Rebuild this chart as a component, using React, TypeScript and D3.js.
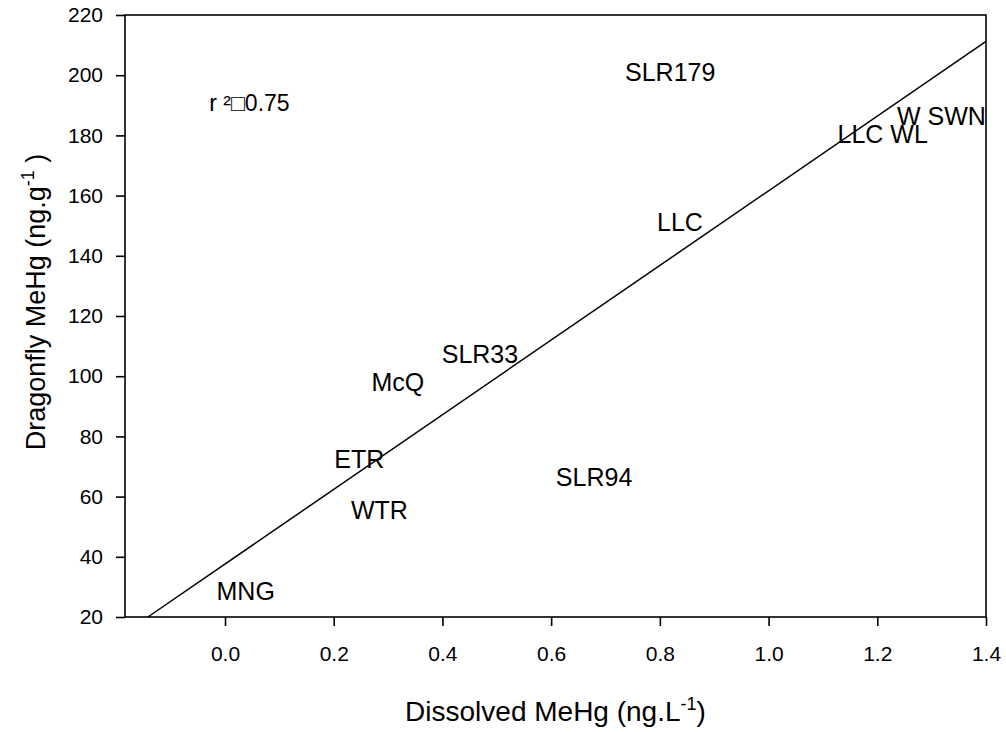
import React, { useEffect, useRef } from 'react';
import * as d3 from 'd3';

// site labels placed at (dissolved MeHg, dragonfly MeHg)
const sites = ['SLR179', 'W SWN', 'LLC WL', 'LLC', 'SLR33', 'McQ', 'ETR', 'WTR', 'SLR94', 'MNG'];
const dissolvedMeHg = [0.819, 1.318, 1.21, 0.837, 0.469, 0.318, 0.247, 0.284, 0.679, 0.038];
const dragonflyMeHg = [201.2, 186.4, 180.5, 151.1, 107.5, 98.2, 72.5, 55.5, 66.5, 28.8];

const xTicks = [0, 0.2, 0.4, 0.6, 0.8, 1.0, 1.2, 1.4];
const yTicks = [20, 40, 60, 80, 100, 120, 140, 160, 180, 200, 220];

// linear fit drawn across the plot
const fitIntercept = 37.6;
const fitSlope = 124.0;
const rSquaredText = 'r \u00B2\u25A10.75';
const rSquaredPos = [-0.029, 190.9];

const FONT = '"Liberation Sans", Arial, sans-serif';

const App = () => {
  const ref = useRef<SVGSVGElement>(null);

  useEffect(() => {
    const svg = d3.select(ref.current);
    svg.selectAll('*').remove();

    const left = 125, right = 986, top = 15, bottom = 617;

    const x = d3.scaleLinear().domain([-0.184, 1.4]).range([left, right]);
    const y = d3.scaleLinear().domain([20, 220]).range([bottom, top]);

    // frame
    svg.append('rect')
      .attr('x', left).attr('y', top)
      .attr('width', right - left).attr('height', bottom - top)
      .attr('fill', 'none').attr('stroke', '#000').attr('stroke-width', 1.6);

    const xAxis = svg.append('g')
      .attr('transform', `translate(0,${bottom})`)
      .call(d3.axisBottom(x).tickValues(xTicks).tickSize(9).tickSizeOuter(0).tickPadding(20)
        .tickFormat(d3.format('.1f')));
    xAxis.select('.domain').remove();
    xAxis.selectAll('line').attr('stroke-width', 1.6);
    xAxis.selectAll('text').style('font-size', '21px').style('font-family', FONT).attr('fill', '#000');

    const yAxis = svg.append('g')
      .attr('transform', `translate(${left},0)`)
      .call(d3.axisLeft(y).tickValues(yTicks).tickSize(9).tickSizeOuter(0).tickPadding(13));
    yAxis.select('.domain').remove();
    yAxis.selectAll('line').attr('stroke-width', 1.6);
    yAxis.selectAll('text').style('font-size', '21px').style('font-family', FONT).attr('fill', '#000');

    // regression line, clipped to the y range
    const x0 = (20 - fitIntercept) / fitSlope;
    const x1 = 1.4;
    svg.append('line')
      .attr('x1', x(x0)).attr('y1', y(fitIntercept + fitSlope * x0))
      .attr('x2', x(x1)).attr('y2', y(fitIntercept + fitSlope * x1))
      .attr('stroke', '#000').attr('stroke-width', 1.5);

    // site labels
    svg.append('g').selectAll('text')
      .data(sites)
      .enter()
      .append('text')
      .attr('x', (d, i) => x(dissolvedMeHg[i]))
      .attr('y', (d, i) => y(dragonflyMeHg[i]))
      .attr('text-anchor', 'middle')
      .attr('dominant-baseline', 'central')
      .style('font-size', '25px')
      .style('font-family', FONT)
      .text(d => d);

    svg.append('text')
      .attr('x', x(rSquaredPos[0]))
      .attr('y', y(rSquaredPos[1]))
      .attr('dominant-baseline', 'central')
      .style('font-size', '23px')
      .style('font-family', FONT)
      .text(rSquaredText);

    // axis titles
    const xt = svg.append('text')
      .attr('x', (left + right) / 2)
      .attr('y', 721)
      .attr('text-anchor', 'middle')
      .style('font-size', '28px')
      .style('font-family', FONT);
    xt.append('tspan').text('Dissolved MeHg (ng.L');
    xt.append('tspan').attr('dy', -11).style('font-size', '18px').text('-1');
    xt.append('tspan').attr('dy', 11).text(')');

    const yt = svg.append('text')
      .attr('transform', `translate(45,302) rotate(-90)`)
      .attr('text-anchor', 'middle')
      .style('font-size', '27px')
      .style('font-family', FONT);
    yt.append('tspan').text('Dragonfly MeHg (ng.g');
    yt.append('tspan').attr('dy', -11).style('font-size', '18px').text('-1');
    yt.append('tspan').attr('dy', 11).text(' )');
  }, []);

  return (
    <svg ref={ref} width={1006} height={732}
      style={{ position: 'absolute', left: 0, top: 0, background: '#fff' }} />
  );
};

export default App;
